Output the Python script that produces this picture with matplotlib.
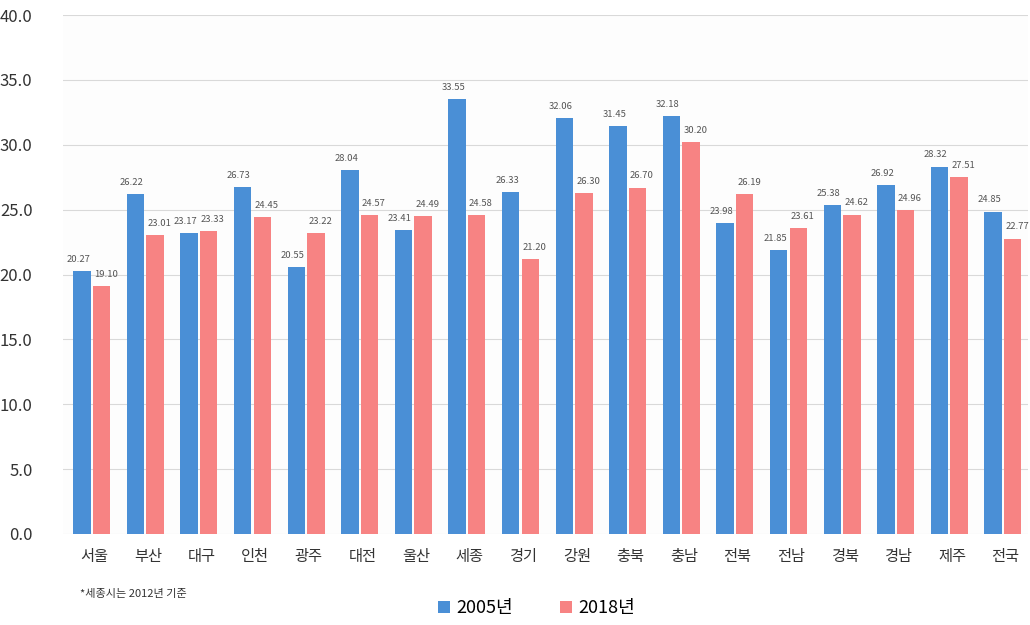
import numpy as np
import matplotlib
matplotlib.use("Agg")
import matplotlib.pyplot as plt

plt.rcParams['font.family'] = ['Noto Sans CJK KR', 'DejaVu Sans']

regions = ['서울', '부산', '대구', '인천', '광주', '대전', '울산', '세종', '경기',
           '강원', '충북', '충남', '전북', '전남', '경북', '경남', '제주', '전국']
y2005 = [20.27, 26.22, 23.17, 26.73, 20.55, 28.04, 23.41, 33.55, 26.33,
         32.06, 31.45, 32.18, 23.98, 21.85, 25.38, 26.92, 28.32, 24.85]
y2018 = [19.10, 23.01, 23.33, 24.45, 23.22, 24.57, 24.49, 24.58, 21.20,
         26.30, 26.70, 30.20, 26.19, 23.61, 24.62, 24.96, 27.51, 22.77]
series_labels = ['2005년', '2018년']

BLUE = '#4a8fd6'
PINK = '#f78383'

fig = plt.figure(figsize=(10.3, 6.25), dpi=100)
ax = fig.add_axes([0.0612, 0.1456, 0.937, 0.8304])

x = np.arange(len(regions))
w = 0.325
off = 0.182
b1 = ax.bar(x - off, y2005, w, color=BLUE, label=series_labels[0], zorder=3)
b2 = ax.bar(x + off, y2018, w, color=PINK, label=series_labels[1], zorder=3)

# value labels, nudged apart a little like the original
for xi, v in zip(x - off, y2005):
    ax.text(xi - 0.07, v + 0.55, f'{v:.2f}', ha='center', va='bottom', fontsize=6.8, color='#555555')
for xi, v in zip(x + off, y2018):
    ax.text(xi + 0.08, v + 0.55, f'{v:.2f}', ha='center', va='bottom', fontsize=6.8, color='#555555')

ax.set_ylim(0, 40)
ax.set_yticks(np.arange(0, 40.1, 5))
ax.set_yticklabels([f'{t:.1f}' for t in np.arange(0, 40.1, 5)], fontsize=12, color='#333333')
ax.set_xlim(-0.534, 17.47)
ax.set_xticks(x + 0.05)
ax.set_xticklabels(regions, fontsize=11, color='#333333')
ax.tick_params(axis='both', length=0)
ax.tick_params(axis='x', pad=10)
ax.tick_params(axis='y', pad=22)
ax.grid(axis='y', color='#d9d9d9', linewidth=0.8, zorder=0)
for s in ax.spines.values():
    s.set_visible(False)
ax.set_facecolor('#fdfdfd')

fig.text(0.078, 0.045, '*세종시는 2012년 기준', fontsize=8, color='#333333')
fig.legend(handles=[b1, b2], labels=series_labels, loc='lower center',
           bbox_to_anchor=(0.521, -0.014), ncol=2, frameon=False, fontsize=13,
           handlelength=0.65, handleheight=0.65, columnspacing=2.6, handletextpad=0.35)

fig.savefig('out.png', dpi=100)
